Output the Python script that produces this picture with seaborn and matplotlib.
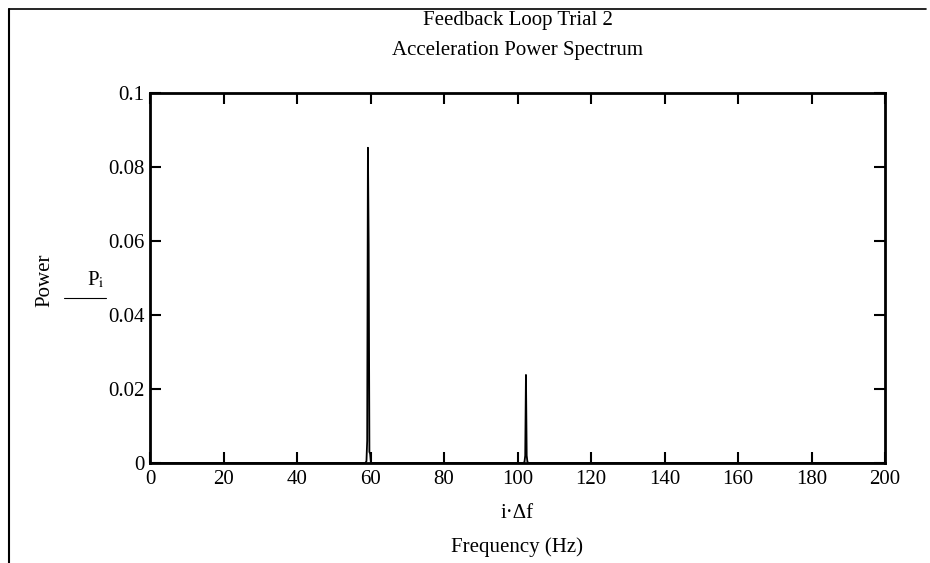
import numpy as np
import pandas as pd
import seaborn as sns
import matplotlib.pyplot as plt
from matplotlib.lines import Line2D

# spectrum (Hz, power)
freq = [0, 58.6, 58.9, 59.1, 59.3, 59.5, 59.7, 59.9, 60.1, 60.3,
        101.6, 101.9, 102.1, 102.3, 102.5, 102.7, 103.0, 200]
power = [0, 0, 0.0005, 0.006, 0.0852, 0.059, 0.003, 0.0025, 0.0003, 0,
         0, 0.0003, 0.002, 0.0238, 0.002, 0.0003, 0, 0]
x_ticks = [0, 20, 40, 60, 80, 100, 120, 140, 160, 180, 200]
y_ticks = [0, 0.02, 0.04, 0.06, 0.08, 0.1]
y_tick_labels = ["0", "0.02", "0.04", "0.06", "0.08", "0.1"]

df = pd.DataFrame({"freq": freq, "power": power})

sns.set_theme(style="ticks")
plt.rcParams["font.family"] = ["Liberation Serif", "DejaVu Serif"]
plt.rcParams["mathtext.fontset"] = "stix"
plt.rcParams["text.color"] = "black"

fs = 15

fig = plt.figure(figsize=(9.3, 5.63), dpi=100)
ax = fig.add_axes([150 / 930, 100 / 563, 735 / 930, 370 / 563])

sns.lineplot(data=df, x="freq", y="power", ax=ax, color="black", linewidth=1.3,
             estimator=None, sort=False)

ax.set_xlim(0, 200)
ax.set_ylim(0, 0.1)
ax.set_xticks(x_ticks)
ax.set_yticks(y_ticks)
ax.set_yticklabels(y_tick_labels)
ax.tick_params(direction="in", length=8, width=1.5, top=True, right=True,
               labelsize=fs, colors="black", pad=4)
ax.tick_params(axis="x", pad=5)
for s in ax.spines.values():
    s.set_linewidth(2)
    s.set_color("black")
ax.set_xlabel("")
ax.set_ylabel("")

# titles
cx = 0.5 * (150 + 885) / 930
fig.text(cx, 1 - 21 / 563, "Feedback Loop Trial 2",
         ha="center", va="center", fontsize=fs)
fig.text(cx, 1 - 50 / 563, "Acceleration Power Spectrum",
         ha="center", va="center", fontsize=fs)

# axis labels, Mathcad style
fig.text(517 / 930, 1 - 513 / 563, "i·Δf", ha="center", va="center", fontsize=fs)
fig.text(517 / 930, 1 - 547 / 563, "Frequency (Hz)", ha="center", va="center", fontsize=fs)
fig.text(45 / 930, 1 - 280 / 563, "Power", ha="center", va="center",
         rotation=90, fontsize=fs)
fig.text(96 / 930, 1 - 290 / 563, r"P$_{\rm i}$", ha="center", va="bottom", fontsize=fs)
fig.add_artist(Line2D([64 / 930, 106 / 930], [1 - 298 / 563, 1 - 298 / 563],
                      transform=fig.transFigure, color="black", linewidth=0.8))

# page frame (left and top edges)
fig.add_artist(Line2D([9 / 930, 9 / 930], [0, 1 - 9 / 563],
                      transform=fig.transFigure, color="black", linewidth=1.5))
fig.add_artist(Line2D([9 / 930, 926 / 930], [1 - 9 / 563, 1 - 9 / 563],
                      transform=fig.transFigure, color="black", linewidth=1.2))

fig.savefig("out.png", dpi=100)
